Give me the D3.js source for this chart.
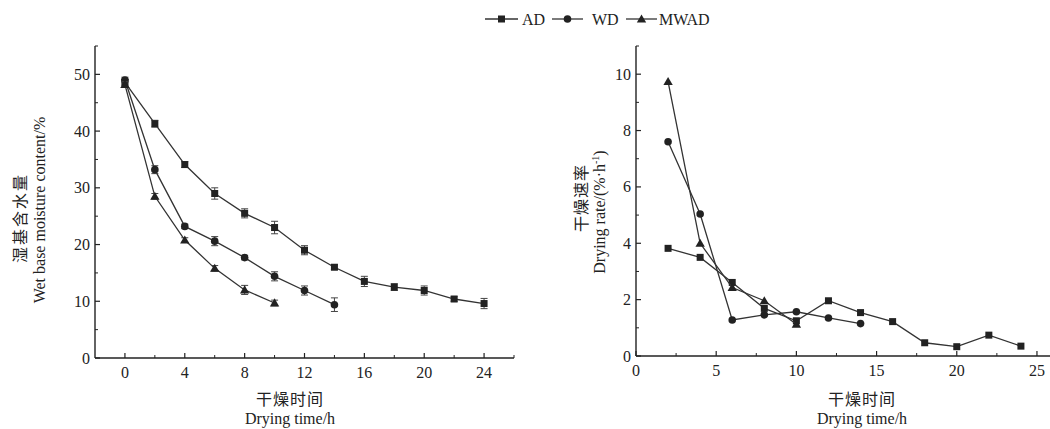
<!DOCTYPE html>
<html><head><meta charset="utf-8">
<script src="https://cdn.jsdelivr.net/npm/d3@7"></script>
<style>
body{margin:0;background:#fff;}
svg text{font-family:"Liberation Serif","Times New Roman",serif;fill:#222;}
.cn{font-family:"Noto Sans CJK SC",sans-serif;}
</style></head>
<body><svg id="c" width="1050" height="429"></svg>
<script>
// ---- data ----
const seriesNames = ["AD", "WD", "MWAD"];
const timeAD = [0,2,4,6,8,10,12,14,16,18,20,22,24];
const timeWD = [0,2,4,6,8,10,12,14];
const timeMWAD = [0,2,4,6,8,10];
const moistAD = [48.6,41.3,34.1,29.0,25.5,23.0,19.0,16.0,13.5,12.5,11.9,10.4,9.6];
const moistWD = [49.0,33.2,23.2,20.6,17.7,14.4,11.9,9.4];
const moistMWAD = [48.2,28.5,20.8,15.8,12.0,9.7];
const errAD = [0.5,0.6,0.5,1.0,0.8,1.1,0.8,0.4,0.9,0.6,0.8,0.4,0.9];
const errWD = [0.5,0.7,0.4,0.8,0.4,0.8,0.8,1.2];
const errMWAD = [0.5,0.5,0.4,0.5,0.8,0.5];
const rateTimeAD = [2,4,6,8,10,12,14,16,18,20,22,24];
const rateTimeWD = [2,4,6,8,10,12,14];
const rateTimeMWAD = [2,4,6,8,10];
const rateAD = [3.82,3.5,2.61,1.69,1.25,1.96,1.54,1.22,0.47,0.33,0.74,0.35];
const rateWD = [7.6,5.04,1.28,1.46,1.57,1.35,1.15];
const rateMWAD = [9.74,4.0,2.43,1.96,1.13];
const leftXTicks = [0,4,8,12,16,20,24];
const leftYTicks = [0,10,20,30,40,50];
const rightXTicks = [0,5,10,15,20,25];
const rightYTicks = [0,2,4,6,8,10];

const svg = d3.select("#c");
const ink = "#222";

function marker(g, type, x, y){
  if(type==="AD"){
    g.append("rect").attr("x",x-3.5).attr("y",y-3.5).attr("width",7).attr("height",7).attr("fill",ink);
  } else if(type==="WD"){
    g.append("circle").attr("cx",x).attr("cy",y).attr("r",3.8).attr("fill",ink);
  } else {
    g.append("path").attr("d",d3.symbol().type(d3.symbolTriangle).size(38)()).attr("transform",`translate(${x},${y+0.8})`).attr("fill",ink);
  }
}

function drawAxes(x, y, xt, xMinor, yt, yMinor){
  const g = svg.append("g");
  const [x0,x1] = x.range(), [y0,y1] = y.range();
  g.append("line").attr("x1",x0).attr("x2",x1).attr("y1",y0).attr("y2",y0).attr("stroke",ink).attr("stroke-width",1.4);
  g.append("line").attr("x1",x0).attr("x2",x0).attr("y1",y0).attr("y2",y1).attr("stroke",ink).attr("stroke-width",1.4);
  xt.forEach(v=>{
    g.append("line").attr("x1",x(v)).attr("x2",x(v)).attr("y1",y0).attr("y2",y0-5).attr("stroke",ink).attr("stroke-width",1.2);
    g.append("text").attr("x",x(v)).attr("y",y0+20).attr("text-anchor","middle").attr("font-size",16).text(v);
  });
  xMinor.forEach(v=>{
    g.append("line").attr("x1",x(v)).attr("x2",x(v)).attr("y1",y0).attr("y2",y0-3).attr("stroke",ink).attr("stroke-width",1);
  });
  yt.forEach(v=>{
    g.append("line").attr("x1",x0).attr("x2",x0+5).attr("y1",y(v)).attr("y2",y(v)).attr("stroke",ink).attr("stroke-width",1.2);
    g.append("text").attr("x",x0-5).attr("y",y(v)+5.5).attr("text-anchor","end").attr("font-size",16).text(v);
  });
  yMinor.forEach(v=>{
    g.append("line").attr("x1",x0).attr("x2",x0+3).attr("y1",y(v)).attr("y2",y(v)).attr("stroke",ink).attr("stroke-width",1);
  });
}

function drawSeries(x, y, xs, ys, type, errs){
  const g = svg.append("g");
  const pts = xs.map((v,i)=>[x(v), y(ys[i])]);
  g.append("path").attr("d",d3.line()(pts)).attr("fill","none").attr("stroke","#333").attr("stroke-width",1.3);
  if(errs){
    xs.forEach((v,i)=>{
      const cx=x(v), t=y(ys[i]+errs[i]), b=y(ys[i]-errs[i]);
      g.append("line").attr("x1",cx).attr("x2",cx).attr("y1",t).attr("y2",b).attr("stroke","#444").attr("stroke-width",1);
      g.append("line").attr("x1",cx-3.5).attr("x2",cx+3.5).attr("y1",t).attr("y2",t).attr("stroke","#444").attr("stroke-width",1);
      g.append("line").attr("x1",cx-3.5).attr("x2",cx+3.5).attr("y1",b).attr("y2",b).attr("stroke","#444").attr("stroke-width",1);
    });
  }
  pts.forEach(p=>marker(g,type,p[0],p[1]));
}

// ---- left chart ----
const xL = d3.scaleLinear().domain([-2,26]).range([95,514]);
const yL = d3.scaleLinear().domain([0,55]).range([358,46]);
drawAxes(xL, yL, leftXTicks, [2,6,10,14,18,22,26].filter(v=>v<=26), leftYTicks, [5,15,25,35,45,55]);
drawSeries(xL, yL, timeAD, moistAD, "AD", errAD);
drawSeries(xL, yL, timeWD, moistWD, "WD", errWD);
drawSeries(xL, yL, timeMWAD, moistMWAD, "MWAD", errMWAD);

// ---- right chart ----
const xR = d3.scaleLinear().domain([0,26]).range([636,1053]);
const yR = d3.scaleLinear().domain([0,11]).range([356,46]);
drawAxes(xR, yR, rightXTicks, [2.5,7.5,12.5,17.5,22.5], rightYTicks, [1,3,5,7,9,11]);
drawSeries(xR, yR, rateTimeAD, rateAD, "AD", null);
drawSeries(xR, yR, rateTimeWD, rateWD, "WD", null);
drawSeries(xR, yR, rateTimeMWAD, rateMWAD, "MWAD", null);

// ---- axis titles ----
function xTitle(cx){
  svg.append("text").attr("class","cn").attr("x",cx).attr("y",405).attr("text-anchor","middle").attr("font-size",16).attr("letter-spacing",1).text("干燥时间");
  svg.append("text").attr("x",cx).attr("y",424).attr("text-anchor","middle").attr("font-size",16).text("Drying time/h");
}
xTitle(290);
xTitle(862);
function yTitle(cxCn, cyCn, cn, cxEn, cyEn, en){
  svg.append("text").attr("class","cn").attr("transform",`translate(${cxCn+6},${cyCn}) rotate(-90)`).attr("text-anchor","middle").attr("font-size",16).attr("letter-spacing",2).text(cn);
  svg.append("text").attr("transform",`translate(${cxEn+6},${cyEn}) rotate(-90)`).attr("text-anchor","middle").attr("font-size",16).text(en);
}
yTitle(20, 218, "湿基含水量", 39, 210, "Wet base moisture content/%");
const rt = svg.append("text").attr("transform",`translate(605,212) rotate(-90)`).attr("text-anchor","middle").attr("font-size",16);
rt.append("tspan").text("Drying rate/(%·h");
rt.append("tspan").attr("font-size",10).attr("dy",-6).text("-1");
rt.append("tspan").attr("dy",6).text(")");
svg.append("text").attr("class","cn").attr("transform",`translate(587,198) rotate(-90)`).attr("text-anchor","middle").attr("font-size",16).attr("letter-spacing",1).text("干燥速率");

// ---- legend ----
const legX = [[485,518,522],[552,583,592],[626,657,659]];
seriesNames.forEach((n,i)=>{
  const [a,b,t] = legX[i];
  const g = svg.append("g");
  g.append("line").attr("x1",a).attr("x2",b).attr("y1",19).attr("y2",19).attr("stroke","#333").attr("stroke-width",1.3);
  marker(g,n,(a+b)/2,19);
  g.append("text").attr("x",t).attr("y",25).attr("font-size",16).text(n);
});
</script></body></html>
